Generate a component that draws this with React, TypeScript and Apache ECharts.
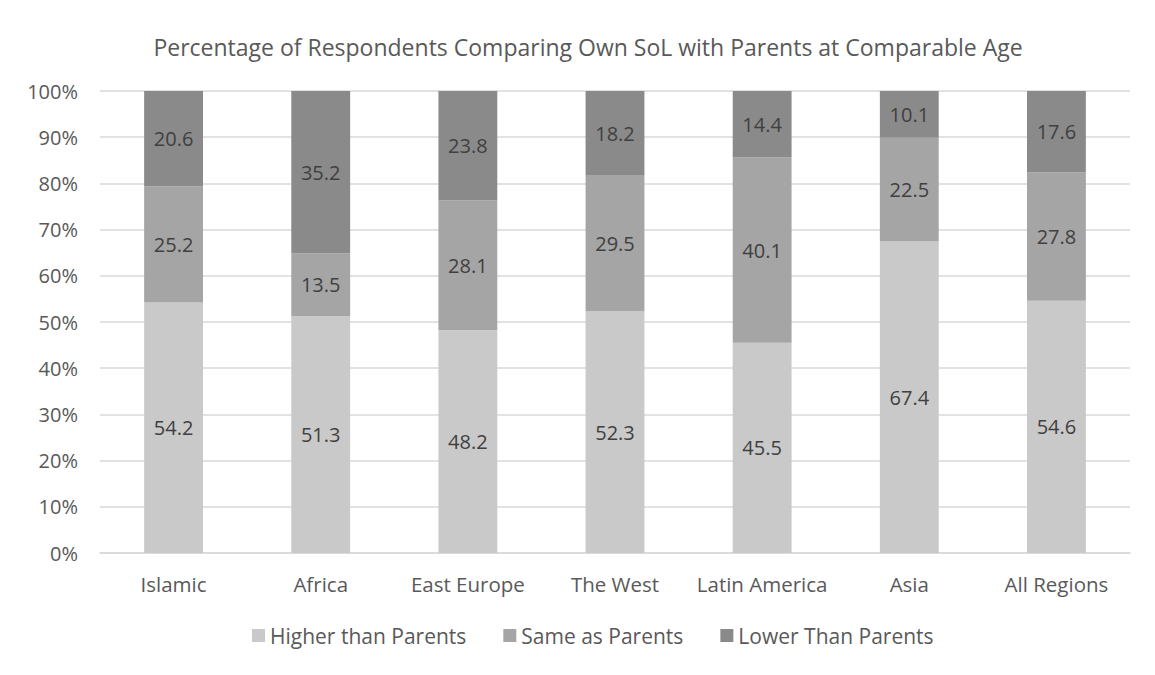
import React, { useEffect, useRef } from "react";
import * as echarts from "echarts";

// Regions and share of respondents (%) in each standard-of-living category
const regions = ["Islamic", "Africa", "East Europe", "The West", "Latin America", "Asia", "All Regions"];
const higherThanParents = [54.2, 51.3, 48.2, 52.3, 45.5, 67.4, 54.6];
const sameAsParents = [25.2, 13.5, 28.1, 29.5, 40.1, 22.5, 27.8];
const lowerThanParents = [20.6, 35.2, 23.8, 18.2, 14.4, 10.1, 17.6];
const seriesNames = ["Higher than Parents", "Same as Parents", "Lower Than Parents"];
const seriesColors = ["#c9c9c9", "#a5a5a5", "#8a8a8a"];

const FONT = "'Open Sans', 'Liberation Sans', sans-serif";
const TEXT = "#595959";
const FRAME = "#d9d9d9";

export default function App() {
  const ref = useRef<HTMLDivElement>(null);

  useEffect(() => {
    if (!ref.current) return;
    const chart = echarts.init(ref.current, undefined, { renderer: "svg" });
    const values = [higherThanParents, sameAsParents, lowerThanParents];
    chart.setOption({
      animation: false,
      backgroundColor: "#ffffff",
      textStyle: { fontFamily: FONT },
      title: {
        text: "Percentage of Respondents Comparing Own SoL with Parents at Comparable Age",
        left: 583,
        textAlign: "center",
        top: 30,
        textStyle: { fontFamily: FONT, fontSize: 23, fontWeight: "normal", color: TEXT },
      },
      // chart-area frame: top and left edges
      graphic: [
        { type: "rect", z: 100, shape: { x: 6, y: 5, width: 1146, height: 2 }, style: { fill: FRAME } },
        { type: "rect", z: 100, shape: { x: 6, y: 5, width: 2, height: 667 }, style: { fill: FRAME } },
      ],
      legend: {
        bottom: 24,
        left: 247,
        itemWidth: 13,
        itemHeight: 13,
        itemGap: 37,
        icon: "rect",
        textStyle: { fontFamily: FONT, fontSize: 21, color: TEXT },
        data: seriesNames,
      },
      grid: { left: 100, right: 25, top: 91, bottom: 122 },
      xAxis: {
        type: "category",
        data: regions,
        axisLine: { lineStyle: { color: "#d9d9d9", width: 1.5 } },
        axisTick: { show: false },
        axisLabel: { fontFamily: FONT, fontSize: 20.5, color: TEXT, margin: 20, interval: 0 },
      },
      yAxis: {
        type: "value",
        min: 0,
        max: 100,
        interval: 10,
        axisLabel: {
          fontFamily: FONT,
          fontSize: 20,
          color: TEXT,
          margin: 22,
          formatter: (v: number) => `${v}%`,
        },
        splitLine: { lineStyle: { color: "#d9d9d9", width: 1.5 } },
        axisLine: { show: false },
        axisTick: { show: false },
      },
      series: seriesNames.map((name, i) => ({
        name,
        type: "bar",
        stack: "total",
        data: values[i],
        barWidth: "40%",
        itemStyle: { color: seriesColors[i] },
        label: {
          show: true,
          position: "inside",
          fontFamily: FONT,
          fontSize: 20,
          color: "#404040",
          formatter: (p: any) => Number(p.value).toFixed(1),
        },
      })),
    });
    return () => chart.dispose();
  }, []);

  return <div ref={ref} style={{ width: 1155, height: 675, margin: -8 }} />;
}
